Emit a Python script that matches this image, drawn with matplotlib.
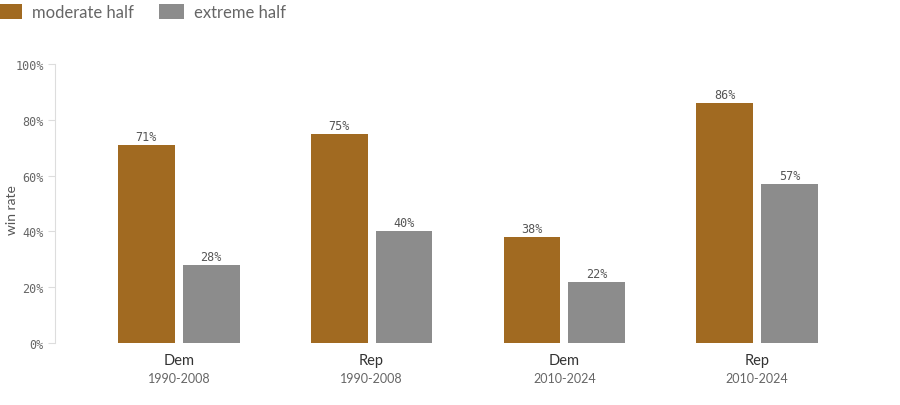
import numpy as np
import matplotlib.pyplot as plt
from matplotlib.patches import Patch

# win rates by group
parties = ['Dem', 'Rep', 'Dem', 'Rep']
periods = ['1990-2008', '1990-2008', '2010-2024', '2010-2024']
moderate = [71, 75, 38, 86]
extreme = [28, 40, 22, 57]

c_mod = '#A16A21'
c_ext = '#8C8C8C'

fig = plt.figure(figsize=(9, 4.06), dpi=100)
ax = fig.add_axes([55 / 900, 62 / 406, 826 / 900, 279 / 406])

x = np.arange(len(parties))
w = 0.295
off = 0.168
b1 = ax.bar(x - off, moderate, w, color=c_mod)
b2 = ax.bar(x + off, extreme, w, color=c_ext)

for bars, vals in ((b1, moderate), (b2, extreme)):
    for b, v in zip(bars, vals):
        ax.text(b.get_x() + b.get_width() / 2, v + 0.7, f'{v}%', ha='center', va='bottom',
                family='DejaVu Sans Mono', fontsize=8.5, color='#555555')

ax.set_xlim(-0.642, 3.642)
ax.set_ylim(0, 100)
ax.set_yticks(range(0, 101, 20))
ax.set_yticklabels([f'{t}%' for t in range(0, 101, 20)], family='DejaVu Sans Mono',
                   fontsize=8.5, color='#666666')
ax.tick_params(axis='y', length=5, color='#dddddd', pad=3)
ax.set_xticks([])
for s in ['top', 'right', 'bottom']:
    ax.spines[s].set_visible(False)
ax.spines['left'].set_color('#dddddd')
fig.text(12 / 900, 1 - 210 / 406, 'win rate', rotation=90, ha='center', va='center',
         family='Lato', fontsize=10, color='#555555')

for xi, p, per in zip(x, parties, periods):
    ax.text(xi, -3.5, p, ha='center', va='top', family='Lato', fontsize=10.5, color='#333333')
    ax.text(xi, -10.5, per, ha='center', va='top', family='Lato', fontsize=9, color='#666666')

handles = [Patch(facecolor=c_mod, label='moderate half'), Patch(facecolor=c_ext, label='extreme half')]
fig.legend(handles=handles, loc='upper left', bbox_to_anchor=(-0.02, 1.025), ncol=2, frameon=False,
           prop={'family': 'Lato', 'size': 12}, labelcolor='#666666', handlelength=1.5,
           handleheight=1.0, columnspacing=1.5, handletextpad=0.6)

fig.savefig('out.png', dpi=100)
